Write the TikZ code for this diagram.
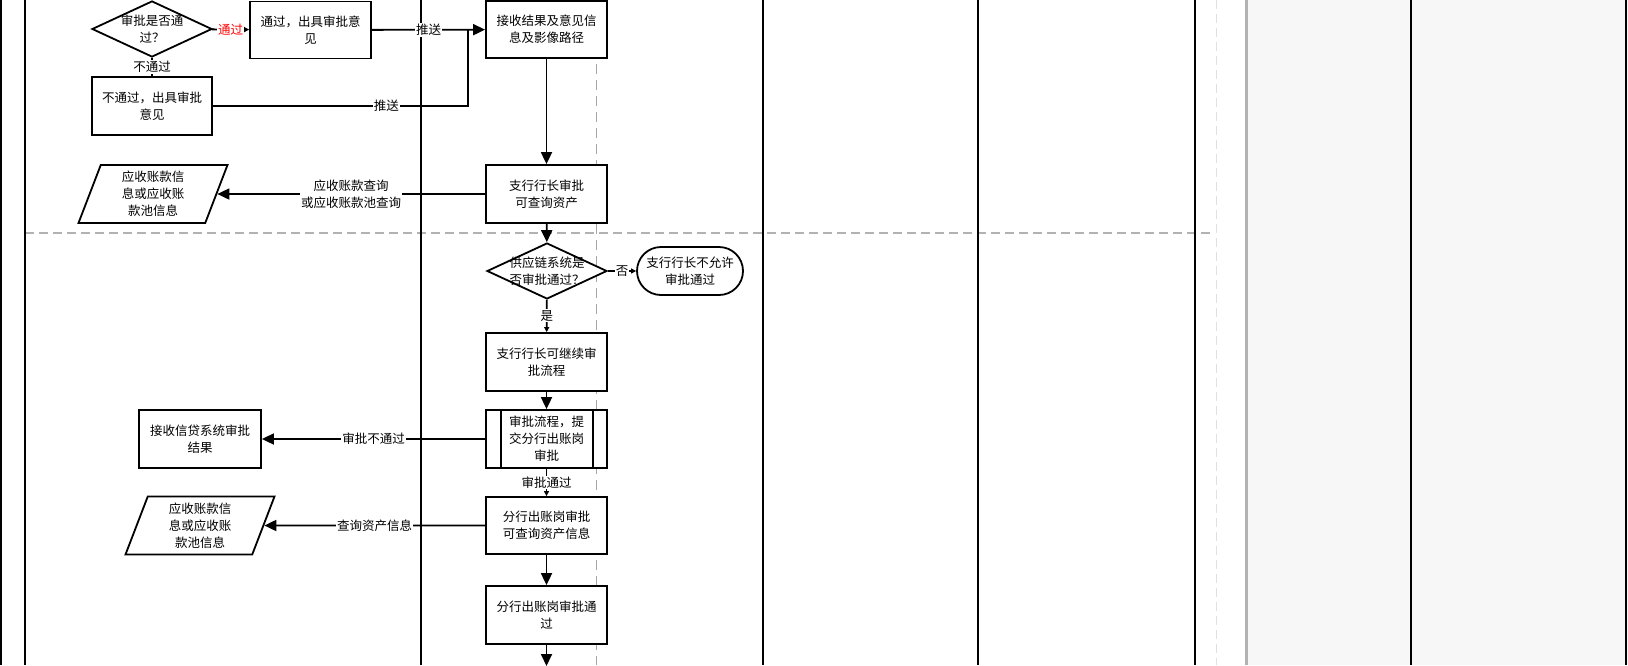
\documentclass[tikz,border=0pt]{standalone}
\usepackage{fontspec}
\newfontfamily\cjk{Noto Sans CJK SC}
\usetikzlibrary{arrows.meta,shapes.geometric}

\begin{document}
\begin{tikzpicture}[x=1pt, y=-1pt,
  every node/.style={font=\cjk\fontsize{12.5}{17}\selectfont},
  box/.style={draw, line width=1.8pt, fill=white, minimum width=121pt, minimum height=57pt, align=center, inner sep=2pt},
  decision/.style={draw, diamond, line width=1.8pt, fill=white, minimum width=120pt, minimum height=56pt, inner sep=0pt},
  datanode/.style={draw, trapezium, trapezium left angle=64, trapezium right angle=116, trapezium stretches body,
    line width=1.8pt, fill=white, minimum width=149pt, minimum height=58pt, align=center, inner sep=0pt},
  terminal/.style={draw, rectangle, rounded corners=24pt, line width=1.8pt, fill=white, minimum width=106pt, minimum height=48pt, align=center, inner sep=0pt},
  lbl/.style={fill=white, inner sep=1pt, align=center},
  big/.style={line width=1.8pt, -{Triangle[length=12pt,width=11pt]}},
  small/.style={line width=1.8pt, -{Triangle[length=5pt,width=5pt]}},
  lane/.style={line width=2.2pt}]
\useasboundingbox (0,0) rectangle (1628,665);
% swimlanes
\fill[black!3] (1246,0) rectangle (1628,665);
\draw[line width=3pt, black!30] (1246,0) -- (1246,665);
\draw[black!12, line width=1pt, dash pattern=on 9pt off 5pt] (1216,0) -- (1216,665);
\draw[black!35, line width=1pt, dash pattern=on 10pt off 6pt] (596,0) -- (596,665);
\draw[black!30, line width=1.2pt, dash pattern=on 9pt off 5pt] (25,233) -- (1212,233);
\draw[lane] (1.2,0) -- (1.2,665);
\foreach \x in {25,421,763,978,1195,1411,1626}
  \draw[lane] (\x,0) -- (\x,665);

% nodes
\node[decision, label={[align=center]center:审批是否通\\过？}] (d1) at (152,29) {};
\node[box] (b1) at (310.5,30) {通过，出具审批意\\见};
\node[box, minimum width=120pt, minimum height=58pt] (b2) at (152,106) {不通过，出具审批\\意见};
\node[box] (r1) at (546.5,29.5) {接收结果及意见信\\息及影像路径};
\node[box, minimum height=58pt] (b3) at (546.5,194) {支行行长审批\\可查询资产};
\node[datanode] (p1) at (153,194) {应收账款信\\息或应收账\\款池信息};
\node[decision, label={[align=center]center:供应链系统是\\否审批通过？}] (d2) at (547,271) {};
\node[terminal] (t1) at (690,271) {支行行长不允许\\审批通过};
\node[box, minimum height=58pt] (b4) at (546.5,362) {支行行长可继续审\\批流程};
\node[box, minimum height=58pt] (pp) at (546.5,439) {审批流程，提\\交分行出账岗\\审批};
\draw[line width=1.8pt] ([xshift=16pt]pp.north west) -- ([xshift=16pt]pp.south west);
\draw[line width=1.8pt] ([xshift=-15pt]pp.north east) -- ([xshift=-15pt]pp.south east);
\node[box, minimum width=122pt, minimum height=58pt] (b5) at (200,439) {接收信贷系统审批\\结果};
\node[box] (b6) at (546.5,525.5) {分行出账岗审批\\可查询资产信息};
\node[datanode] (p2) at (200,525.5) {应收账款信\\息或应收账\\款池信息};
\node[box, minimum height=58pt] (b7) at (546.5,615) {分行出账岗审批通\\过};
\coordinate (j1) at (468,29);
\coordinate (out) at (546.5,666);

% connectors
\draw[small] (d1) -- node[lbl, text=red] {通过} (b1);
\draw[big] (b1) -- node[lbl] {推送} (r1);
\draw[line width=1.8pt] (d1) -- node[lbl] {不通过} (b2);
\draw[line width=1.8pt] (b2) -| node[lbl, pos=0.34] {推送} (j1);
\draw[big] (r1) -- (b3);
\draw[big] (b3) -- node[lbl] {应收账款查询\\或应收账款池查询} (p1);
\draw[big] (b3) -- (d2);
\draw[small] (d2) -- node[lbl] {否} (t1);
\draw[small] (d2) -- node[lbl] {是} (b4);
\draw[big] (b4) -- (pp);
\draw[big] (pp) -- node[lbl] {审批不通过} (b5);
\draw[small] (pp) -- node[lbl] {审批通过} (b6);
\draw[big] (b6) -- node[lbl] {查询资产信息} (p2);
\draw[big] (b6) -- (b7);
\draw[big] (b7) -- (out);
\end{tikzpicture}
\end{document}
